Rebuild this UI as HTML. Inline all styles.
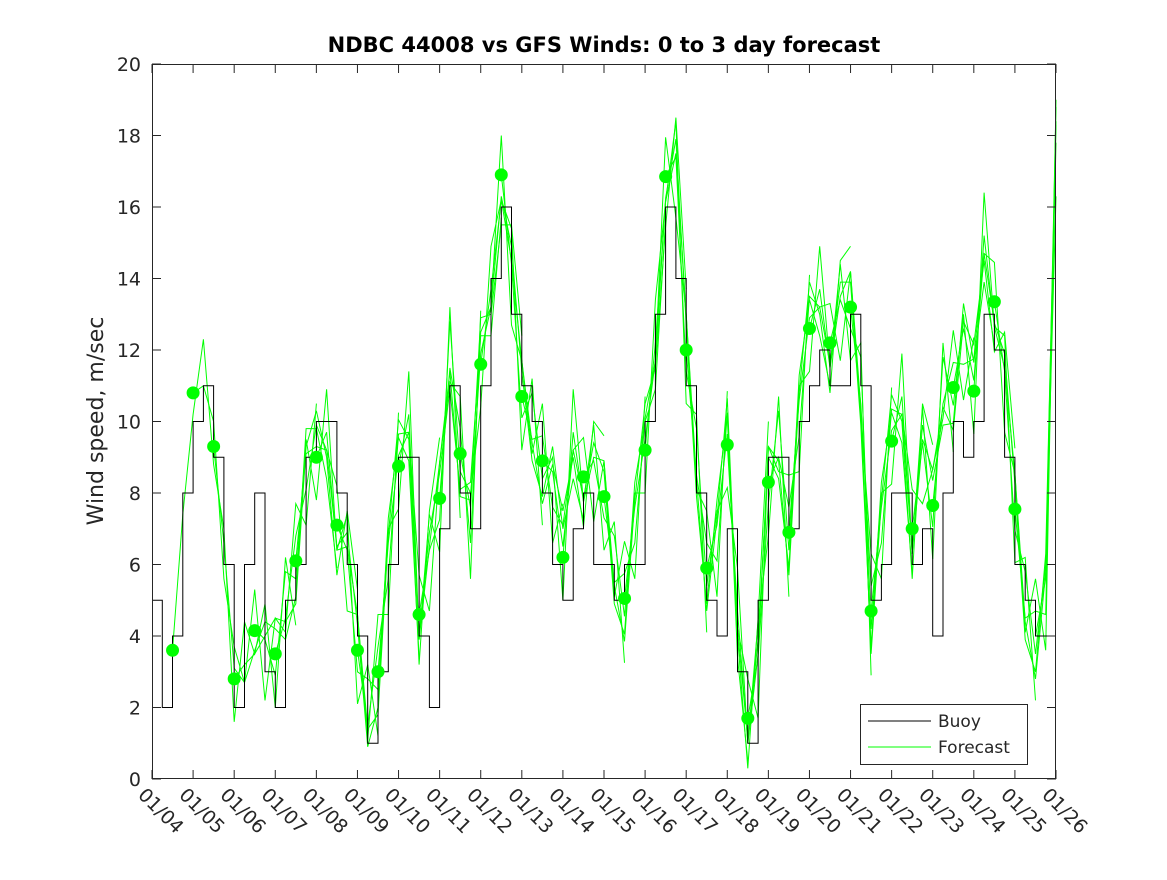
<!DOCTYPE html>
<html><head><meta charset="utf-8"><style>
body{margin:0;background:#fff;}
svg text{font-family:"DejaVu Sans","Liberation Sans",sans-serif;fill:#262626;}
</style></head><body>
<svg id="chart" width="1167" height="875" xmlns="http://www.w3.org/2000/svg">
<rect x="0" y="0" width="1167" height="875" fill="#fff"/>
<rect x="152" y="64" width="904" height="715" fill="#fff"/>
<g id="series"></g>
<g id="axes"></g>
<text x="604" y="52" text-anchor="middle" font-size="21" font-weight="bold" style="fill:#000">NDBC 44008 vs GFS Winds: 0 to 3 day forecast</text>
<text transform="translate(103,421) rotate(-90)" text-anchor="middle" font-size="22">Wind speed, m/sec</text>
<g>
<rect x="860.5" y="704.5" width="167" height="60" fill="#fff" stroke="#262626" stroke-width="1"/>
<line x1="868" y1="721" x2="931" y2="721" stroke="#000" stroke-width="1"/>
<text x="938" y="727" font-size="17">Buoy</text>
<line x1="868" y1="747" x2="931" y2="747" stroke="#00ff00" stroke-width="1"/>
<text x="938" y="753" font-size="17">Forecast</text>
</g>
</svg>
<script>
const xTickLabels=["01/04","01/05","01/06","01/07","01/08","01/09","01/10","01/11","01/12","01/13","01/14","01/15","01/16","01/17","01/18","01/19","01/20","01/21","01/22","01/23","01/24","01/25","01/26"];
const yTicks=[0,2,4,6,8,10,12,14,16,18,20];
const buoy=[5,2,4,8,10,11,9,6,2,6,8,3,2,5,6,9,10,10,8,6,4,1,3,6,9,9,4,2,7,11,8,7,11,14,16,13,11,10,8,6,5,7,8,6,6,5,6,6,10,13,16,14,11,8,5,4,7,3,1,5,9,9,7,10,11,12,11,11,13,11,5,6,8,8,6,7,4,8,10,9,10,13,12,9,6,5,4,4];
const fcDays=[0.5,0.75,1,1.25,1.5,1.75,2,2.25,2.5,2.75,3,3.25,3.5,3.75,4,4.25,4.5,4.75,5,5.25,5.5,5.75,6,6.25,6.5,6.75,7,7.25,7.5,7.75,8,8.25,8.5,8.75,9,9.25,9.5,9.75,10,10.25,10.5,10.75,11,11.25,11.5,11.75,12,12.25,12.5,12.75,13,13.25,13.5,13.75,14,14.25,14.5,14.75,15,15.25,15.5,15.75,16,16.25,16.5,16.75,17,17.25,17.5,17.75,18,18.25,18.5,18.75,19,19.25,19.5,19.75,20,20.25,20.5,20.75,21,21.25,21.5,21.75,22];
const fcBase=[3.6,7,10.8,11.5,9.3,6,2.8,3.5,4.2,3.5,3.5,5,6.1,8.5,9,10,7.1,6,3.6,2,3,6,8.75,10.5,4.6,6,7.85,12,9.1,7,11.6,14,16.9,14,10.7,10,8.9,8,6.2,10,8.45,8.5,7.9,6,5.05,7,9.2,12.5,16.85,17,12,9,5.9,6.5,9.35,5,1.7,3,8.3,9.5,6.9,10,12.6,14,12.2,13,13.2,11,4.7,7,9.45,11,7,9,7.65,11,10.95,12,10.85,15.5,13.35,11,7.55,5,4,5,17.5];
const runDev0=[0,0.4,-0.6,0.8,-0.5,1.0,-1.2,0.9,-0.7,1.4,-1.5,1.2,-1.8];
const runDev1=[0,-0.5,0.7,-0.4,0.9,-0.8,1.1,-1.3,1.0,-0.9,1.6,-1.4,1.5];
const runDev2=[0,0.6,0.3,-0.8,-0.6,0.9,0.7,-1.1,-1.0,1.3,0.8,-1.6,-1.2];
const runDev3=[0,-0.3,-0.7,0.5,1.0,-0.6,-1.2,0.8,1.3,-1.0,-1.4,1.5,1.7];
const runDevs=[runDev0,runDev1,runDev2,runDev3];
const dotDays=[0.5,1,1.5,2,2.5,3,3.5,4,4.5,5,5.5,6,6.5,7,7.5,8,8.5,9,9.5,10,10.5,11,11.5,12,12.5,13,13.5,14,14.5,15,15.5,16,16.5,17,17.5,18,18.5,19,19.5,20,20.5,21];
const dotValues=[3.6,10.8,9.3,2.8,4.15,3.5,6.1,9.0,7.1,3.6,3.0,8.75,4.6,7.85,9.1,11.6,16.9,10.7,8.9,6.2,8.45,7.9,5.05,9.2,16.85,12.0,5.9,9.35,1.7,8.3,6.9,12.6,12.2,13.2,4.7,9.45,7.0,7.65,10.95,10.85,13.35,7.55];

const X0=152,X1=1056,Y0=779,Y1=64;
const xs=d=>X0+d*(X1-X0)/22;
const ys=v=>Y0-Math.max(0,Math.min(20,v))*(Y0-Y1)/20;
const NS="http://www.w3.org/2000/svg";
const series=document.getElementById('series'),axes=document.getElementById('axes');
function mk(tag,parent){const e=document.createElementNS(NS,tag);parent.appendChild(e);return e;}

for(let k=0;k<fcDays.length-1;k+=2){
  const dev=runDevs[(k/2)%4];let pts=[];
  for(let j=0;j<13&&k+j<fcDays.length;j++){pts.push(xs(fcDays[k+j]).toFixed(1)+','+ys(fcBase[k+j]+dev[j]).toFixed(1));}
  const p=mk('polyline',series);
  p.setAttribute('points',pts.join(' '));p.setAttribute('fill','none');p.setAttribute('stroke','#00ff00');p.setAttribute('stroke-width','1');
  
  
}
{let d='';for(let i=0;i<buoy.length;i++){const x=xs(i*0.25),y=ys(buoy[i]);d+=(i===0?'M':'V')+(i===0?x.toFixed(1)+','+y.toFixed(1):y.toFixed(1))+'H'+xs(i*0.25+0.25).toFixed(1);}
 const p=mk('path',series);p.setAttribute('d',d);p.setAttribute('fill','none');p.setAttribute('stroke','#000');p.setAttribute('stroke-width','1');
 
 }
for(let i=0;i<dotDays.length;i++){const c=mk('circle',series);c.setAttribute('cx',xs(dotDays[i]));c.setAttribute('cy',ys(dotValues[i]));c.setAttribute('r',6.5);c.setAttribute('fill','#00ff00');
 
 }
const fr=mk('rect',axes);fr.setAttribute('x',X0+0.5);fr.setAttribute('y',Y1+0.5);fr.setAttribute('width',X1-X0-1);fr.setAttribute('height',Y0-Y1-1);fr.setAttribute('fill','none');fr.setAttribute('stroke','#262626');


yTicks.forEach(v=>{const y=ys(v);
 const l=mk('path',axes);l.setAttribute('d',`M${X0},${y}h9M${X1},${y}h-9`);l.setAttribute('stroke','#262626');
 const t=mk('text',axes);t.setAttribute('x',X0-11);t.setAttribute('y',y+7);t.setAttribute('text-anchor','end');t.setAttribute('font-size','19');t.textContent=v;
 
 });
xTickLabels.forEach((s,i)=>{const x=xs(i);
 const l=mk('path',axes);l.setAttribute('d',`M${x},${Y0}v-9M${x},${Y1}v9`);l.setAttribute('stroke','#262626');
 const t=mk('text',axes);t.setAttribute('transform',`translate(${x-15},${Y0+17}) rotate(45)`);t.setAttribute('font-size','19');t.textContent=s;
 
 });
</script>
</body></html>
